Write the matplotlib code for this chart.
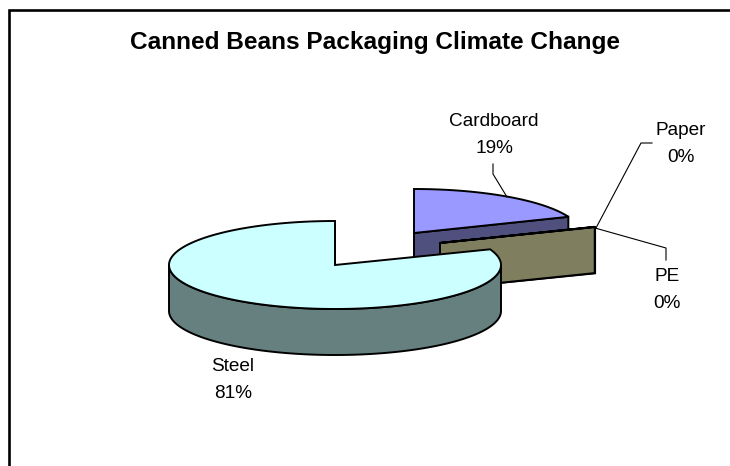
import numpy as np
import matplotlib
matplotlib.use("Agg")
import matplotlib.pyplot as plt
from matplotlib.patches import Polygon, Rectangle

plt.rcParams['font.family'] = ['Liberation Sans', 'DejaVu Sans']

# shares in percent, clockwise from 12 o'clock
categories = ["Cardboard", "Paper", "PE", "Steel"]
shares = [19.0, 0.1, 0.1, 80.8]
title = "Canned Beans Packaging Climate Change"

# look of the 3D pie, in pixels
CENTER = (335, 265)
RX = 166
RY = 44
DEPTH = 46
top_colors = ["#9999FF", "#7F7F60", "#7F7F60", "#CCFFFF"]
side_colors = ["#50507F", "#7F7F60", "#7F7F60", "#668080"]
offsets = [(79, -32), (105, -22), (105, -22), (0, 0)]
draw_order = [0, 2, 1, 3]

# label text position and leader line for each slice
label_pos = [(494, 135), (681, 144), (667, 290), (233, 380)]
leaders = [
    [(493, 164), (493, 174), (507, 197)],
    [(652, 143), (641, 143), (596, 228)],
    [(595, 228), (666, 248), (666, 260)],
    [],
]


def rim(cx, cy, angles):
    a = np.radians(angles)
    return np.column_stack((cx + RX * np.cos(a), cy - RY * np.sin(a)))


def draw_slice(ax, start, stop, offset, top, side, z):
    cx = CENTER[0] + offset[0]
    cy = CENTER[1] + offset[1]
    apex = np.array([[cx, cy]])
    down = np.array([0, DEPTH])
    angles = np.linspace(start, stop, 300)
    edge = rim(cx, cy, angles)

    # cut face at the clockwise end, the other one looks away from us
    p = edge[-1]
    face = np.array([apex[0], p, p + down, apex[0] + down])
    ax.add_patch(Polygon(face, fc=side, ec="black", lw=1.4, zorder=z))

    # outer wall, only the part facing the viewer
    sin_front = np.sin(np.radians(angles)) <= 0
    if sin_front.any():
        front = edge[sin_front]
        wall = np.vstack((front, (front + down)[::-1]))
        ax.add_patch(Polygon(wall, fc=side, ec="black", lw=1.4, zorder=z + 0.2))

    ax.add_patch(Polygon(np.vstack((apex, edge)), fc=top, ec="black", lw=1.4,
                         joinstyle="miter", zorder=z + 0.5))


def main():
    fig = plt.figure(figsize=(7.3, 4.66), dpi=100)
    ax = fig.add_axes([0, 0, 1, 1])
    ax.set_xlim(0, 730)
    ax.set_ylim(466, 0)
    ax.axis("off")

    # chart border, runs off the right and bottom of the picture
    ax.add_patch(Rectangle((9, 10), 760, 500, fc="white", ec="black", lw=1.9, zorder=0))

    ax.text(375.5, 49, title, ha="center", va="baseline", fontsize=17.6,
            fontweight="bold", color="black")

    # slice angles from the shares
    bounds = 90 - np.cumsum([0] + shares) * 3.6

    for i in draw_order:
        z = 1 + draw_order.index(i)
        draw_slice(ax, bounds[i], bounds[i + 1], offsets[i], top_colors[i], side_colors[i], z)

    for i, name in enumerate(categories):
        ax.text(label_pos[i][0], label_pos[i][1], f"{name}\n{round(shares[i])}%",
                ha="center", va="center", fontsize=13.7, linespacing=1.72, color="black")
        if leaders[i]:
            xs, ys = zip(*leaders[i])
            ax.plot(xs, ys, color="black", lw=0.8, zorder=8)

    fig.savefig("out.png", dpi=100)


main()
